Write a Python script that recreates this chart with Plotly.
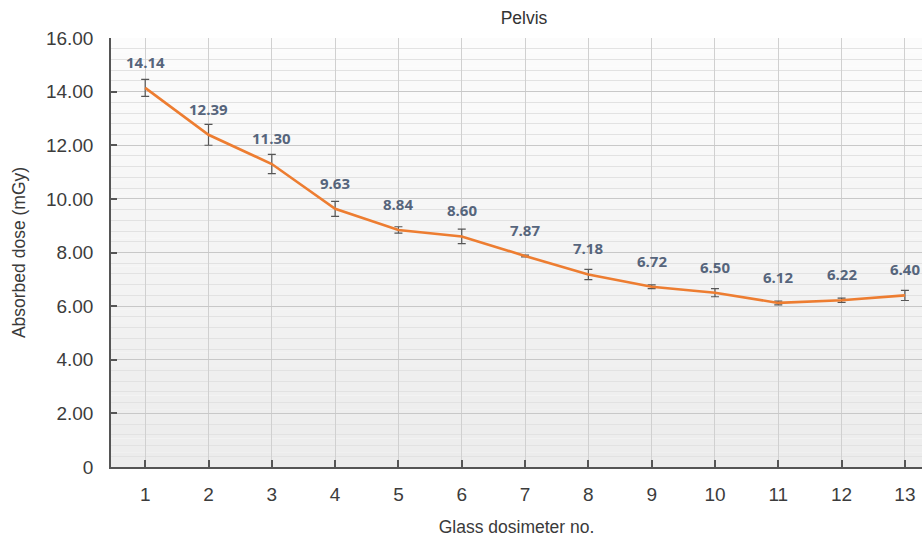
import plotly.graph_objects as go

# Absorbed dose per glass dosimeter (pelvis)
dosimeter_no = list(range(1, 14))
dose_mgy = [14.14, 12.39, 11.30, 9.63, 8.84, 8.60, 7.87, 7.18, 6.72, 6.50, 6.12, 6.22, 6.40]
dose_sd = [0.32, 0.39, 0.36, 0.28, 0.12, 0.27, 0.03, 0.19, 0.07, 0.15, 0.07, 0.08, 0.19]
y_tickvals = [0, 2, 4, 6, 8, 10, 12, 14, 16]
y_ticktext = ["0", "2.00", "4.00", "6.00", "8.00", "10.00", "12.00", "14.00", "16.00"]

BASE_FAMILY = "Liberation Sans, Arial, sans-serif"
TICK_FONT = dict(family=BASE_FAMILY, size=19, color="#3c3c3c")

fig = go.Figure()

fig.add_trace(go.Scatter(
    x=dosimeter_no, y=dose_mgy,
    mode="lines",
    line=dict(color="#ED7D31", width=2.6),
    error_y=dict(type="data", array=dose_sd, visible=True,
                 color="#555555", thickness=1.2, width=4),
    hoverinfo="x+y",
    showlegend=False,
))

# value labels above each point
for xv, yv in zip(dosimeter_no, dose_mgy):
    fig.add_annotation(
        x=xv, y=yv, text=f"{yv:.2f}", showarrow=False,
        yshift=26, xanchor="center", yanchor="middle",
        font=dict(family="Open Sans, Liberation Sans, sans-serif", size=15,
                  color="#56657c", weight="bold"),
    )

# soft vertical gradient in the plot background (white at top, light grey below)
n_bands = 30
shapes = []
for i in range(n_bands):
    t = i / (n_bands - 1)
    g = round(236 + (252 - 236) * t)
    shapes.append(dict(
        type="rect", xref="x domain", yref="y domain",
        x0=0, x1=1, y0=i / n_bands, y1=(i + 1) / n_bands,
        fillcolor=f"rgb({g},{g},{g})", line=dict(width=0), layer="below",
    ))

fig.update_layout(
    width=922, height=539,
    margin=dict(l=111, r=0, t=38, b=72, autoexpand=False),
    paper_bgcolor="white",
    plot_bgcolor="rgba(0,0,0,0)",
    shapes=shapes,
    title=dict(text="Pelvis", x=(111 + 937) / 2 / 922, xanchor="center",
               y=1 - 18 / 539, yanchor="middle",
               font=dict(family=BASE_FAMILY, size=17.5, color="#333333")),
    xaxis=dict(
        range=[0.46, 13.27],
        tickvals=dosimeter_no,
        ticks="inside", ticklen=7, tickcolor="#555555", tickwidth=1.5,
        ticklabelstandoff=9,
        showline=True, linecolor="#555555", linewidth=1.5,
        showgrid=True, gridcolor="#d0d0d0", gridwidth=1,
        zeroline=False,
        tickfont=TICK_FONT,
        title=dict(text="Glass dosimeter no.", standoff=17,
                   font=dict(family=BASE_FAMILY, size=17.5, color="#3a3a3a")),
    ),
    yaxis=dict(
        range=[0, 16],
        tickvals=y_tickvals, ticktext=y_ticktext,
        ticks="inside", ticklen=6, tickcolor="#555555", tickwidth=1.5,
        ticklabelstandoff=12,
        showline=True, linecolor="#555555", linewidth=1.5,
        showgrid=True, gridcolor="#c8c8c8", gridwidth=1,
        minor=dict(dtick=0.4, showgrid=True, gridcolor="#e2e2e2", gridwidth=1, ticks=""),
        zeroline=False,
        tickfont=TICK_FONT,
        title=dict(text="Absorbed dose (mGy)", standoff=16,
                   font=dict(family=BASE_FAMILY, size=17.5, color="#3a3a3a")),
    ),
)

fig.write_html("out.html")
